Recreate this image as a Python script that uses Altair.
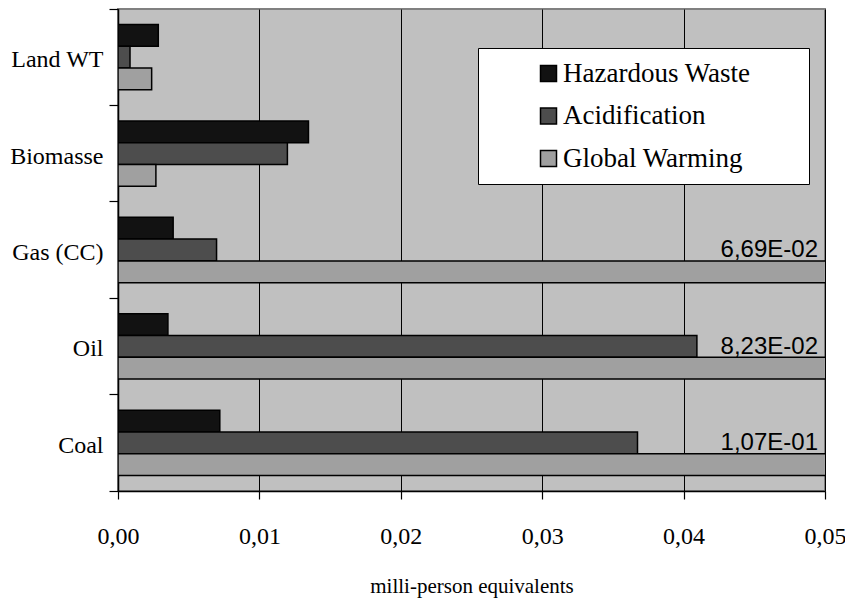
import altair as alt
import pandas as pd

categories = ["Land WT", "Biomasse", "Gas (CC)", "Oil", "Coal"]
series = ["Hazardous Waste", "Acidification", "Global Warming"]
hazardous = [0.00285, 0.01347, 0.0039, 0.00353, 0.0072]
acidification = [0.00085, 0.01198, 0.00697, 0.04094, 0.03674]
global_warming = [0.00238, 0.00268, 0.0669, 0.0823, 0.107]
x_ticks = [0, 0.01, 0.02, 0.03, 0.04, 0.05]
colors = ["#121212", "#4d4d4d", "#a0a0a0"]
x_max = 0.05

rows = []
for s, vals in zip(series, [hazardous, acidification, global_warming]):
    for c, v in zip(categories, vals):
        rows.append({"category": c, "series": s, "value": v})
df = pd.DataFrame(rows)

serif = "Liberation Serif"

y_enc = alt.Y(
    "category:N",
    sort=categories,
    scale=alt.Scale(paddingInner=0, paddingOuter=0),
    axis=alt.Axis(
        title=None, bandPosition=1, tickExtra=True, grid=False,
        labelFont=serif, labelFontSize=24, labelColor="black", labelPadding=6,
        labelOffset=3,
        tickSize=9, tickColor="black", tickWidth=1.2,
        domainColor="black", domainWidth=1.5,
    ),
)
yoff_enc = alt.YOffset(
    "series:N", sort=series,
    scale=alt.Scale(domain=series, paddingInner=0, paddingOuter=0.716),
)
x_scale = alt.Scale(domain=[0, x_max], nice=False, zero=True)

bars = alt.Chart(df).mark_bar(
    clip=True, stroke="black", strokeWidth=1.5, opacity=1
).encode(
    y=y_enc,
    yOffset=yoff_enc,
    x=alt.X(
        "value:Q",
        scale=x_scale,
        axis=alt.Axis(
            values=x_ticks,
            labelExpr="replace(format(datum.value, '.2f'), '.', ',')",
            labelFlush=False, labelOverlap=False,
            grid=True, gridColor="black", gridWidth=1, gridOpacity=1,
            tickSize=8, tickColor="black", tickWidth=1.2,
            domainColor="black", domainWidth=1.5,
            labelFont=serif, labelFontSize=24, labelColor="black", labelPadding=25,
            title="milli-person equivalents", titleFont=serif, titleFontSize=21,
            titleFontWeight="normal", titleColor="black", titlePadding=27,
        ),
    ),
    color=alt.Color(
        "series:N",
        scale=alt.Scale(domain=series, range=colors),
        legend=alt.Legend(
            orient="none", legendX=360, legendY=39,
            title=" ", titleOrient="right", titlePadding=47,
            fillColor="white", strokeColor="black", padding=12,
            symbolType="square", symbolSize=256, symbolStrokeColor="black",
            symbolStrokeWidth=1.5, symbolOffset=45, symbolOpacity=1,
            labelOffset=1, labelFont=serif, labelFontSize=27, labelColor="black",
            labelBaseline="middle", rowPadding=14.5, labelLimit=400,
        ),
    ),
)

labels = alt.Chart(df).transform_filter(
    alt.datum.value > x_max
).transform_calculate(
    xc=f"min(datum.value, {x_max})",
    e="floor(log(datum.value) / LN10)",
).transform_calculate(
    label="replace(format(datum.value / pow(10, datum.e), '.2f'), '.', ',') + 'E' + (datum.e < 0 ? '-' : '+') + pad(toString(abs(datum.e)), 2, '0', 'left')"
).mark_text(
    align="right", baseline="alphabetic", dx=-7, dy=-14.5,
    font="Liberation Sans", fontSize=24, color="black",
).encode(
    y=alt.Y("category:N", sort=categories),
    yOffset=alt.YOffset("series:N", sort=series),
    x=alt.X("xc:Q", scale=x_scale),
    text="label:N",
)

chart = alt.layer(bars, labels).properties(
    width=707, height=482,
    autosize=alt.AutoSizeParams(type="none"),
    padding={"left": 110, "top": 1, "right": 20, "bottom": 110},
    background="white",
).configure_view(
    fill="#c0c0c0", stroke="#808080", strokeWidth=2,
)

chart.save("out.html", embed_options={"renderer": "svg", "actions": False})
